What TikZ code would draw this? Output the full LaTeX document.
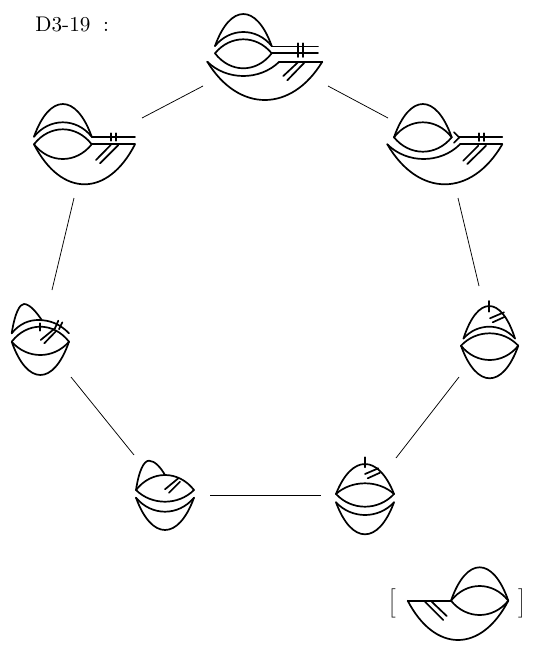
\documentclass[tikz,border=0pt]{standalone}
\tikzset{
  ink/.style={line width=1.7pt,line join=round,line cap=round},
  conn/.style={line width=0.75pt},
  label/.style={inner sep=0pt,scale=1.62},
  titlelabel/.style={inner sep=0pt,scale=2.12},
}
% symmetric lobe: x1, x2, end y, peak y
\newcommand{\lobe}[4]{%
  \pgfmathsetmacro{\lobeA}{#1+0.27*(#2-#1)}%
  \pgfmathsetmacro{\lobeB}{#2-0.27*(#2-#1)}%
  \pgfmathsetmacro{\lobeC}{#3+(#4-#3)*4/3}%
  \draw[ink] (#1,#3) .. controls (\lobeA,\lobeC) and (\lobeB,\lobeC) .. (#2,#3);%
}
\newcommand{\stroke}[4]{\draw[ink] (#1,#2) -- (#3,#4);}
\begin{document}
\begin{tikzpicture}[x=1pt,y=-1pt]
\useasboundingbox (0,0) rectangle (539,656);
\node[titlelabel,anchor=west] (title) at (35,24) {D3-19\hspace{6pt}:};

% connector ends
\coordinate (a1) at (142,118); \coordinate (a2) at (203,86);
\coordinate (b1) at (328,86);  \coordinate (b2) at (388,118);
\coordinate (c1) at (74,198);  \coordinate (c2) at (52,290);
\coordinate (d1) at (458,198); \coordinate (d2) at (479,286);
\coordinate (e1) at (71,377);  \coordinate (e2) at (134,455);
\coordinate (f1) at (459,377); \coordinate (f2) at (396,458);
\coordinate (g1) at (210,495); \coordinate (g2) at (321,495);
\foreach \p/\q in {a1/a2,b1/b2,c1/c2,d1/d2,e1/e2,f1/f2,g1/g2} \draw[conn] (\p) -- (\q);

% top diagram
\lobe{215}{271.7}{46}{14}
\lobe{215}{271.7}{46}{32}
\lobe{215}{271.7}{53.3}{39.3}
\lobe{215}{271.7}{53.3}{68.3}
\stroke{271.7}{46.5}{318}{46.5}
\stroke{271.7}{53.3}{318}{53.3}
\stroke{298.3}{43.3}{298.3}{57}
\stroke{303.3}{43.3}{303.3}{57}
\lobe{207.3}{279.3}{61.7}{76}
\stroke{279.3}{61.7}{322.3}{61.7}
\lobe{207.3}{322.3}{61.7}{100}
\stroke{298.3}{62}{283.3}{76}
\stroke{305}{62}{287.3}{80.3}

% upper left diagram
\lobe{34}{91.7}{136.7}{104}
\lobe{34}{91.7}{136.7}{122.3}
\lobe{34}{91.7}{144.3}{129.3}
\lobe{34}{91.7}{144.3}{159}
\stroke{91.7}{136.7}{135}{136.7}
\stroke{91.7}{144.3}{135}{144.3}
\stroke{111}{133.3}{111}{140.7}
\stroke{116}{133.3}{116}{140.7}
\lobe{34}{135}{144.3}{184.3}
\stroke{110.7}{145}{96}{160}
\stroke{118.3}{145}{100}{163.3}

% upper right diagram
\lobe{394}{451.7}{137.3}{104}
\lobe{394}{451.7}{137.3}{122.3}
\lobe{394}{451.7}{137.3}{151.7}
\draw[ink] (454,132.3) -- (459.3,137.5) -- (454,142.7);
\stroke{459.3}{137.3}{502.3}{137.3}
\stroke{479}{133.3}{479}{141}
\stroke{483.7}{133.3}{483.7}{141}
\lobe{387.3}{460}{144.3}{159}
\stroke{460}{144.3}{502.3}{144.3}
\lobe{387.3}{502.3}{144.3}{184.3}
\stroke{478.3}{145.7}{463.3}{160.7}
\stroke{486}{145.7}{467.3}{164}

% middle left diagram
\draw[ink] (11.7,333.3) .. controls (15,312) and (20,304) .. (24,304) .. controls (30,304) and (37,313) .. (41.7,320);
\draw[ink] (11.7,333.3) .. controls (20,323) and (30,320) .. (38,320) .. controls (50,320) and (60,324) .. (69,333.3);
\lobe{11.7}{69}{341.7}{326.7}
\lobe{11.7}{69}{341.7}{355}
\lobe{11.7}{69}{341.7}{375}
\stroke{40}{323.3}{40}{330.7}
\stroke{55}{328.3}{40.7}{340}
\stroke{55.5}{331.7}{44.3}{343.3}
\stroke{58.3}{320.7}{55}{328.3}
\stroke{62.3}{322.3}{59}{329.3}

% middle right diagram
\lobe{463.5}{515}{338.5}{306}
\lobe{463.5}{515}{338.5}{326.7}
\lobe{461}{518.3}{345.7}{333.3}
\lobe{461}{518.3}{345.7}{360}
\lobe{461}{518.3}{345.7}{378.3}
\stroke{489.3}{301}{489.3}{311.7}
\stroke{504}{312.3}{490}{318.3}
\stroke{505}{316.7}{492.7}{322.3}

% lower left diagram
\lobe{136}{194}{490}{475}
\lobe{136}{194}{490}{501.7}
\draw[ink] (136,490) .. controls (139,470) and (144,460.7) .. (149,460.7) .. controls (155,460.7) and (161,468) .. (165,475);
\lobe{136}{194}{497.7}{511.7}
\lobe{136}{194}{497.7}{530}
\stroke{178.3}{478.3}{165}{489.3}
\stroke{180}{481.7}{169}{492.7}

% lower right diagram
\lobe{336}{394}{494}{464}
\lobe{336}{394}{494}{483.3}
\lobe{336}{394}{494}{506.7}
\lobe{336}{394}{502.3}{515}
\lobe{336}{394}{502.3}{534.3}
\stroke{365}{457.3}{365}{467.3}
\stroke{378.3}{468.3}{365}{474}
\stroke{380}{472.7}{367.7}{478.3}

% bracketed diagram
\node[label] (lb) at (392.5,603.5) {$\Big[$};
\node[label] (rb) at (522,603.5) {$\Big]$};
\stroke{407.7}{600.7}{451}{600.7}
\lobe{451}{508.3}{600.7}{567.3}
\lobe{451}{508.3}{600.7}{586}
\lobe{451}{508.3}{600.7}{615}
\lobe{407.7}{508.3}{600.7}{640}
\stroke{425}{601.7}{443.3}{620}
\stroke{431.7}{601.7}{446.7}{616}
\end{tikzpicture}
\end{document}
